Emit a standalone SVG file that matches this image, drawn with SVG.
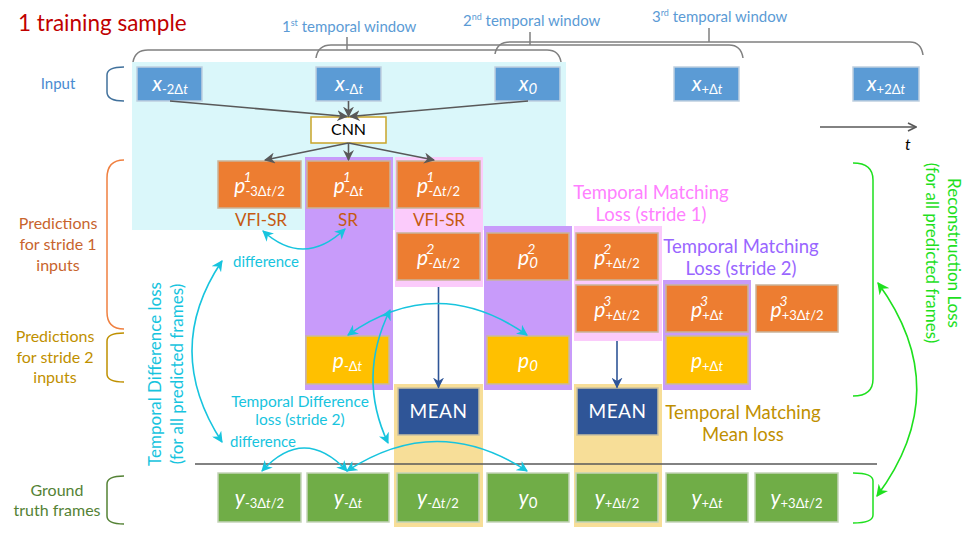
<svg xmlns="http://www.w3.org/2000/svg" width="969" height="537" viewBox="0 0 969 537">
<defs>
<style>
text{font-family:Lato,"Open Sans","Liberation Sans",sans-serif}
.bl{fill:#fff;font-size:21px;text-anchor:middle}
.it{font-style:italic}
.sub{font-size:13px}
.sup{font-size:14px;font-style:italic}
.bi{fill:#5B9BD5;stroke:#BFCFDF;stroke-width:1.5}
.bo{fill:#ED7D31;stroke:#C9B49A;stroke-width:1.5}
.by{fill:#FFC000;stroke:#C9B9A0;stroke-width:1.5}
.bg{fill:#70AD47;stroke:#C3D3B8;stroke-width:1.5}
.bm{fill:#2F5597;stroke:#C9C0A0;stroke-width:1.5}
.brace{fill:none;stroke-width:1.5}
.cy{fill:#17C4DE}
.cyl{fill:none;stroke:#17C4DE;stroke-width:1.6}
.gr{fill:none;stroke:#1EE01E;stroke-width:1.6}
.gl{fill:none;stroke:#595959;stroke-width:1.6}
.dbl{fill:none;stroke:#2F5597;stroke-width:1.6}
.win{fill:#5B9BD5;font-size:15px}
</style>
<marker id="ag" viewBox="0 0 10 10" refX="9" refY="5" markerWidth="11" markerHeight="11" markerUnits="userSpaceOnUse" orient="auto"><path d="M0,0 L10,5 L0,10 L3,5 z" fill="#595959"/></marker>
<marker id="ab" viewBox="0 0 10 10" refX="9" refY="5" markerWidth="11" markerHeight="11" markerUnits="userSpaceOnUse" orient="auto"><path d="M0,0 L10,5 L0,10 L3,5 z" fill="#2F5597"/></marker>
<marker id="ac" viewBox="0 0 10 10" refX="9" refY="5" markerWidth="11" markerHeight="11" markerUnits="userSpaceOnUse" orient="auto-start-reverse"><path d="M0,0 L10,5 L0,10 L3,5 z" fill="#17C4DE"/></marker>
<marker id="agr" viewBox="0 0 10 10" refX="9" refY="5" markerWidth="12" markerHeight="12" markerUnits="userSpaceOnUse" orient="auto-start-reverse"><path d="M0,0 L10,5 L0,10 L3,5 z" fill="#1EE01E"/></marker>
<marker id="at" viewBox="0 0 10 10" refX="9" refY="5" markerWidth="10" markerHeight="10" markerUnits="userSpaceOnUse" orient="auto"><path d="M1,1 L9,5 L1,9" fill="none" stroke="#595959" stroke-width="1.6"/></marker>
</defs>

<!-- background regions -->
<g id="regions">
<rect x="132" y="62" width="434" height="168" fill="#DAF7FA"/>
<rect x="305" y="157" width="88" height="233" fill="#C89BFA"/>
<rect x="395" y="157" width="88" height="130" fill="#FBCBFB"/>
<rect x="484" y="226" width="88" height="164" fill="#C89BFA"/>
<rect x="574" y="226" width="88" height="115" fill="#FBCBFB"/>
<rect x="663" y="280" width="88" height="110" fill="#C89BFA"/>
<rect x="394" y="384" width="89" height="143" fill="#F7DE98"/>
<rect x="574" y="384" width="88" height="143" fill="#F7DE98"/>
</g>

<!-- braces and guides -->
<g id="braces">
<path class="brace" stroke="#808080" d="M133,62 Q135,50 148,50 L547,50 Q559,50 561,62 M347,50 L347,37"/>
<path class="brace" stroke="#808080" d="M316,58 Q318,45 331,45 L729,45 Q741,45 743,58 M530,45 L530,32"/>
<path class="brace" stroke="#808080" d="M495,54 Q497,42 510,42 L910,42 Q921,42 923,55 M709,42 L709,28"/>
<path class="brace" stroke="#41719C" d="M124,67 Q107,67 107,75 L107,92 Q107,101 124,101"/>
<path class="brace" stroke="#F08040" d="M124,160 Q107,160 107,178 L107,312 Q107,329 124,329"/>
<path class="brace" stroke="#BF9000" d="M124,333 Q107,333 107,341 L107,374 Q107,382 124,382"/>
<path class="brace" stroke="#548235" d="M124,476 Q107,476 107,484 L107,516 Q107,524 124,524"/>
<path class="brace" stroke="#1EE01E" d="M853,163 Q873,163 873,180 L873,379 Q873,396 853,396"/>
<path class="brace" stroke="#1EE01E" d="M853,473 Q873,473 873,481 L873,515 Q873,523 853,523"/>
<line x1="195" y1="464" x2="877" y2="464" stroke="#595959" stroke-width="1.5"/>
</g>

<!-- input nodes -->
<g id="in_xm2"><rect class="bi" x="137" y="67" width="65" height="34"/><text class="bl" x="170" y="91"><tspan class="it">x</tspan><tspan class="sub" dy="3">-2Δ<tspan class="it">t</tspan></tspan></text></g>
<g id="in_xm1"><rect class="bi" x="316" y="67" width="65" height="34"/><text class="bl" x="349" y="91"><tspan class="it">x</tspan><tspan class="sub" dy="3">-Δ<tspan class="it">t</tspan></tspan></text></g>
<g id="in_x0"><rect class="bi" x="495" y="67" width="65" height="34"/><text class="bl" x="528" y="91"><tspan class="it">x</tspan><tspan class="it" font-size="15" dy="3">0</tspan></text></g>
<g id="in_xp1"><rect class="bi" x="674" y="67" width="65" height="34"/><text class="bl" x="707" y="91"><tspan class="it">x</tspan><tspan class="sub" dy="3">+Δ<tspan class="it">t</tspan></tspan></text></g>
<g id="in_xp2"><rect class="bi" x="853" y="67" width="66" height="34"/><text class="bl" x="886" y="91"><tspan class="it">x</tspan><tspan class="sub" dy="3">+2Δ<tspan class="it">t</tspan></tspan></text></g>

<g id="cnn"><rect x="311" y="117" width="75" height="26" fill="#fff" stroke="#C9A52A" stroke-width="1.5"/><text x="348.5" y="135" font-size="16" text-anchor="middle" fill="#000">CNN</text></g>

<!-- stride 1 predictions -->
<g id="p1_m3h"><rect class="bo" x="218" y="161" width="83" height="47"/><text class="bl" x="259.5" y="193"><tspan class="it">p</tspan><tspan class="sup" dx="-2" dy="-11">1</tspan><tspan class="sub" dx="-6" dy="14">-3Δ<tspan class="it">t</tspan>/2</tspan></text></g>
<g id="p1_m1"><rect class="bo" x="307" y="161" width="83" height="47"/><text class="bl" x="348.5" y="193"><tspan class="it">p</tspan><tspan class="sup" dx="-2" dy="-11">1</tspan><tspan class="sub" dx="-6" dy="14">-Δ<tspan class="it">t</tspan></tspan></text></g>
<g id="p1_mh"><rect class="bo" x="397" y="161" width="83" height="47"/><text class="bl" x="438.5" y="193"><tspan class="it">p</tspan><tspan class="sup" dx="-2" dy="-11">1</tspan><tspan class="sub" dx="-6" dy="14">-Δ<tspan class="it">t</tspan>/2</tspan></text></g>
<g id="p2_mh"><rect class="bo" x="397" y="233" width="83" height="47"/><text class="bl" x="438.5" y="265"><tspan class="it">p</tspan><tspan class="sup" dx="-2" dy="-11">2</tspan><tspan class="sub" dx="-6" dy="14">-Δ<tspan class="it">t</tspan>/2</tspan></text></g>
<g id="p2_0"><rect class="bo" x="487" y="233" width="82" height="47"/><text class="bl" x="528" y="265"><tspan class="it">p</tspan><tspan class="sup" dx="-2" dy="-11">2</tspan><tspan class="it" font-size="15" dx="-6" dy="14">0</tspan></text></g>
<g id="p2_ph"><rect class="bo" x="576" y="233" width="82" height="47"/><text class="bl" x="617" y="265"><tspan class="it">p</tspan><tspan class="sup" dx="-2" dy="-11">2</tspan><tspan class="sub" dx="-6" dy="14">+Δ<tspan class="it">t</tspan>/2</tspan></text></g>
<g id="p3_ph"><rect class="bo" x="576" y="285" width="82" height="47"/><text class="bl" x="617" y="317"><tspan class="it">p</tspan><tspan class="sup" dx="-2" dy="-11">3</tspan><tspan class="sub" dx="-6" dy="14">+Δ<tspan class="it">t</tspan>/2</tspan></text></g>
<g id="p3_p1"><rect class="bo" x="666" y="285" width="82" height="47"/><text class="bl" x="707" y="317"><tspan class="it">p</tspan><tspan class="sup" dx="-2" dy="-11">3</tspan><tspan class="sub" dx="-6" dy="14">+Δ<tspan class="it">t</tspan></tspan></text></g>
<g id="p3_p3h"><rect class="bo" x="756" y="285" width="82" height="47"/><text class="bl" x="797" y="317"><tspan class="it">p</tspan><tspan class="sup" dx="-2" dy="-11">3</tspan><tspan class="sub" dx="-6" dy="14">+3Δ<tspan class="it">t</tspan>/2</tspan></text></g>

<!-- stride 2 predictions -->
<g id="q_m1"><rect class="by" x="306" y="336" width="83" height="48"/><text class="bl" x="347.5" y="368"><tspan class="it">p</tspan><tspan class="sub" dy="3">-Δ<tspan class="it">t</tspan></tspan></text></g>
<g id="q_0"><rect class="by" x="487" y="336" width="82" height="48"/><text class="bl" x="528" y="368"><tspan class="it">p</tspan><tspan class="it" font-size="15" dy="3">0</tspan></text></g>
<g id="q_p1"><rect class="by" x="666" y="336" width="82" height="48"/><text class="bl" x="707" y="368"><tspan class="it">p</tspan><tspan class="sub" dy="3">+Δ<tspan class="it">t</tspan></tspan></text></g>

<!-- mean nodes -->
<g id="mean1"><rect class="bm" x="398" y="388" width="81" height="47"/><text x="438.5" y="418" fill="#fff" font-size="19" letter-spacing="0.5" text-anchor="middle">MEAN</text></g>
<g id="mean2"><rect class="bm" x="577" y="388" width="81" height="47"/><text x="617.5" y="418" fill="#fff" font-size="19" letter-spacing="0.5" text-anchor="middle">MEAN</text></g>

<!-- ground truth -->
<g id="y_m3h"><rect class="bg" x="218" y="473" width="83" height="49"/><text class="bl" x="259.5" y="505"><tspan class="it">y</tspan><tspan class="sub" dy="3">-3Δ<tspan class="it">t</tspan>/2</tspan></text></g>
<g id="y_m1"><rect class="bg" x="307" y="473" width="82" height="49"/><text class="bl" x="348" y="505"><tspan class="it">y</tspan><tspan class="sub" dy="3">-Δ<tspan class="it">t</tspan></tspan></text></g>
<g id="y_mh"><rect class="bg" x="397" y="473" width="82" height="49"/><text class="bl" x="438" y="505"><tspan class="it">y</tspan><tspan class="sub" dy="3">-Δ<tspan class="it">t</tspan>/2</tspan></text></g>
<g id="y_0"><rect class="bg" x="487" y="473" width="82" height="49"/><text class="bl" x="528" y="505"><tspan class="it">y</tspan><tspan font-size="15" dy="3">0</tspan></text></g>
<g id="y_ph"><rect class="bg" x="576" y="473" width="82" height="49"/><text class="bl" x="617" y="505"><tspan class="it">y</tspan><tspan class="sub" dy="3">+Δ<tspan class="it">t</tspan>/2</tspan></text></g>
<g id="y_p1"><rect class="bg" x="666" y="473" width="82" height="49"/><text class="bl" x="707" y="505"><tspan class="it">y</tspan><tspan class="sub" dy="3">+Δ<tspan class="it">t</tspan></tspan></text></g>
<g id="y_p3h"><rect class="bg" x="755" y="473" width="83" height="49"/><text class="bl" x="796.5" y="505"><tspan class="it">y</tspan><tspan class="sub" dy="3">+3Δ<tspan class="it">t</tspan>/2</tspan></text></g>

<!-- connectors -->
<g id="connectors">
<line class="gl" x1="170" y1="101" x2="347" y2="116.5" marker-end="url(#ag)"/>
<line class="gl" x1="348.5" y1="101" x2="348.5" y2="116.5" marker-end="url(#ag)"/>
<line class="gl" x1="528" y1="101" x2="350" y2="116.5" marker-end="url(#ag)"/>
<line class="gl" x1="348.5" y1="143" x2="265" y2="160" marker-end="url(#ag)"/>
<line class="gl" x1="348.5" y1="143" x2="348.5" y2="160" marker-end="url(#ag)"/>
<line class="gl" x1="348.5" y1="143" x2="434" y2="160" marker-end="url(#ag)"/>
<line class="gl" x1="820" y1="127" x2="916" y2="127" marker-end="url(#at)"/>
<line class="dbl" x1="438.5" y1="287" x2="438.5" y2="387.5" marker-end="url(#ab)"/>
<line class="dbl" x1="617" y1="341" x2="617" y2="387.5" marker-end="url(#ab)"/>
<path class="cyl" d="M263,231 Q304,268 345,229" marker-start="url(#ac)" marker-end="url(#ac)"/>
<path class="cyl" d="M222,261 Q162,350 222,442" marker-start="url(#ac)" marker-end="url(#ac)"/>
<path class="cyl" d="M348,335 Q437,272 527,335" marker-start="url(#ac)" marker-end="url(#ac)"/>
<path class="cyl" d="M390,310 Q357,377 388,443" marker-start="url(#ac)" marker-end="url(#ac)"/>
<path class="cyl" d="M262,471 Q304,425 347,471" marker-start="url(#ac)" marker-end="url(#ac)"/>
<path class="cyl" d="M347,471 Q437,412 527,471" marker-start="url(#ac)" marker-end="url(#ac)"/>
<path class="gr" d="M878,283 Q956,390 877,496" marker-start="url(#agr)" marker-end="url(#agr)"/>
</g>

<!-- labels -->
<g id="labels">
<text x="18" y="31" font-size="22.5" fill="#C00000">1 training sample</text>
<text class="win" x="282" y="32">1<tspan font-size="9" dy="-6">st</tspan><tspan dy="6"> temporal window</tspan></text>
<text class="win" x="463" y="26">2<tspan font-size="9" dy="-6">nd</tspan><tspan dy="6"> temporal window</tspan></text>
<text class="win" x="652" y="22">3<tspan font-size="9" dy="-6">rd</tspan><tspan dy="6"> temporal window</tspan></text>
<text x="905" y="150" font-size="16" font-style="italic" fill="#000">t</text>
<text x="58" y="89" font-size="15" fill="#4A8BD0" text-anchor="middle">Input</text>
<text font-size="16" fill="#C8642D" text-anchor="middle"><tspan x="58" y="229">Predictions</tspan><tspan x="58" y="250">for stride 1</tspan><tspan x="58" y="271">inputs</tspan></text>
<text font-size="16" fill="#BF9000" text-anchor="middle"><tspan x="55" y="342">Predictions</tspan><tspan x="55" y="363">for stride 2</tspan><tspan x="55" y="383">inputs</tspan></text>
<text font-size="16" fill="#548235" text-anchor="middle"><tspan x="57" y="496">Ground</tspan><tspan x="57" y="516">truth frames</tspan></text>
<text font-size="17" fill="#C55A11" text-anchor="middle"><tspan x="261" y="226">VFI-SR</tspan><tspan x="348" y="226">SR</tspan><tspan x="439" y="226">VFI-SR</tspan></text>
<text font-size="18.5" fill="#FF80FF" text-anchor="middle"><tspan x="651" y="199">Temporal Matching</tspan><tspan x="651" y="221">Loss (stride 1)</tspan></text>
<text font-size="18.5" fill="#9966FF" text-anchor="middle"><tspan x="741" y="253">Temporal Matching</tspan><tspan x="741" y="275">Loss (stride 2)</tspan></text>
<text font-size="18.5" fill="#BF9000" text-anchor="middle"><tspan x="743" y="419">Temporal Matching</tspan><tspan x="743" y="441">Mean loss</tspan></text>
<text class="cy" x="233" y="267" font-size="15">difference</text>
<text class="cy" x="230" y="447" font-size="15">difference</text>
<text class="cy" font-size="15.5" text-anchor="middle"><tspan x="300" y="407">Temporal Difference</tspan><tspan x="300" y="425">loss (stride 2)</tspan></text>
<text class="cy" font-size="17" text-anchor="middle" transform="translate(161,374) rotate(-90)">Temporal Difference loss</text>
<text class="cy" font-size="17" text-anchor="middle" transform="translate(183,374) rotate(-90)">(for all predicted frames)</text>
<text font-size="17" fill="#1EE01E" text-anchor="middle" transform="translate(948,253) rotate(90)">Reconstruction Loss</text>
<text font-size="17" fill="#1EE01E" text-anchor="middle" transform="translate(926,253) rotate(90)">(for all predicted frames)</text>
</g>
</svg>
